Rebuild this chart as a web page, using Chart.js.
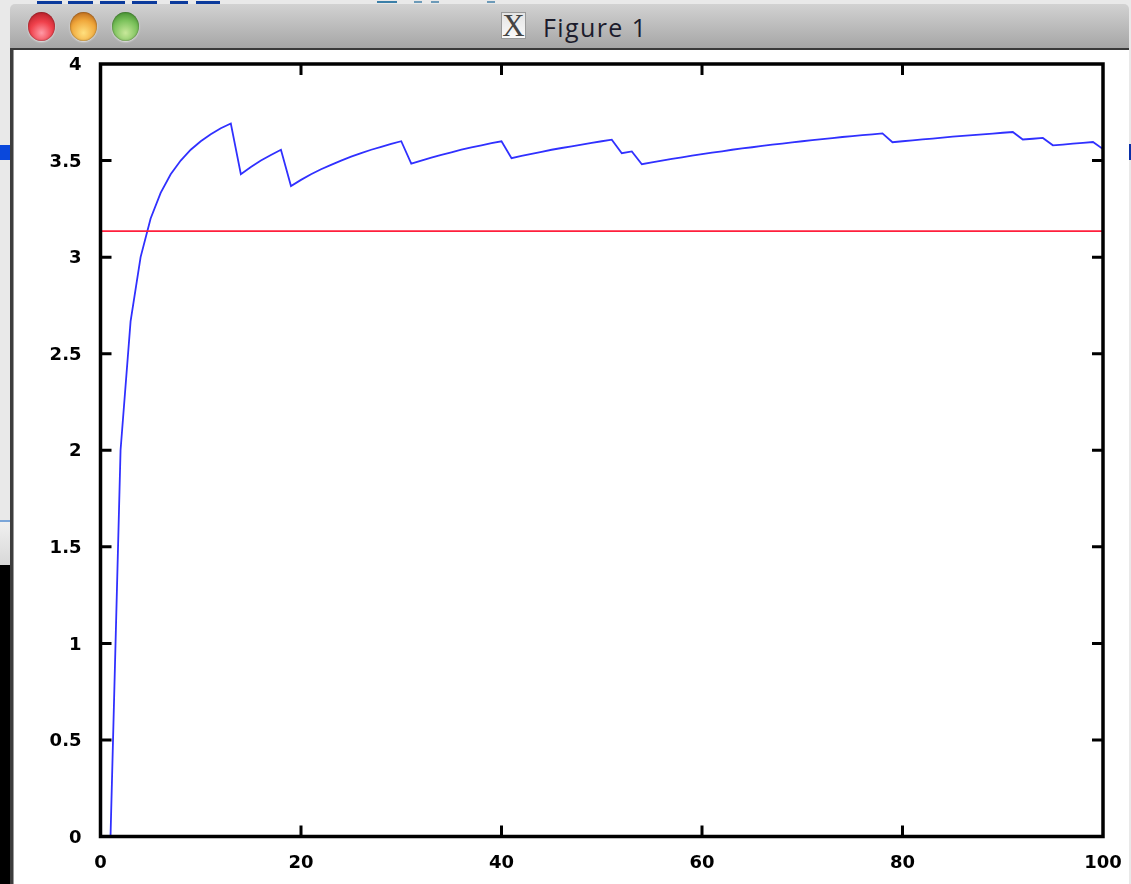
<!DOCTYPE html>
<html><head><meta charset="utf-8">
<script src="https://cdn.jsdelivr.net/npm/chart.js@4"></script>
<style>
html,body{margin:0;padding:0;width:1131px;height:884px;overflow:hidden;background:#e9e9e9;font-family:"DejaVu Sans",sans-serif}
div{position:absolute}
#chart{position:absolute;left:0;top:0;width:1131px;height:884px}
.bt{top:1px;height:3px;background:#0b3a9c}
.light{width:27px;height:29px;border-radius:50%;top:12px;box-shadow:0 1px 2px rgba(255,255,255,.7),inset 0 0 2px rgba(0,0,0,.5)}
</style></head><body>
<div style="left:0;top:565px;width:10px;height:319px;background:#000"></div>
<div style="left:0;top:520px;width:10px;height:2px;background:#7aa5d8"></div>
<div style="left:0;top:522px;width:10px;height:43px;background:linear-gradient(#f0f0f0,#d8d8d8)"></div>
<div style="left:0;top:145px;width:10px;height:15px;background:#0a48dc"></div>
<div style="left:1129px;top:144px;width:2px;height:16px;background:#0a2fa8"></div>
<div class="bt" style="left:37px;width:25px"></div><div class="bt" style="left:68px;width:25px"></div>
<div class="bt" style="left:100px;width:25px"></div><div class="bt" style="left:132px;width:25px"></div>
<div class="bt" style="left:170px;width:18px"></div><div class="bt" style="left:196px;width:24px"></div>
<div class="bt" style="left:377px;width:20px;background:#3b7fa8;height:2px"></div>
<div class="bt" style="left:414px;width:8px;background:#6c9ab8;height:2px"></div>
<div class="bt" style="left:431px;width:8px;background:#6c9ab8;height:2px"></div>
<div class="bt" style="left:487px;width:8px;background:#6c9ab8;height:2px"></div>
<div style="left:10px;top:4px;width:1119px;height:44px;border-radius:5px 5px 0 0;background:linear-gradient(#d2d2d2,#a6a6a6)"></div>
<div style="left:10px;top:48px;width:1119px;height:2px;background:#3a3a3a"></div>
<div style="left:10px;top:50px;width:3px;height:834px;background:#3d3d3d"></div>
<div style="left:13px;top:50px;width:1px;height:834px;background:#9a9a9a"></div>
<div style="left:14px;top:50px;width:1115px;height:834px;background:#fff"></div>
<div class="light" style="left:28px;background:radial-gradient(circle at 50% 72%,#ff9aa6 0,#f0414c 45%,#b01c25 90%)"></div>
<div class="light" style="left:70px;background:radial-gradient(circle at 50% 72%,#ffe07e 0,#f0a83c 50%,#b8641a 90%)"></div>
<div class="light" style="left:112px;background:radial-gradient(circle at 50% 72%,#c8e89a 0,#7cc25c 50%,#3f8a2c 90%)"></div>
<div style="left:501px;top:12px;width:25px;height:27px;background:linear-gradient(#e4e4e4,#fafafa);border:1px solid #999;box-sizing:border-box;color:#444;font:31px/25px 'Liberation Serif',serif;text-align:center;overflow:hidden">X</div>
<div style="left:543px;top:12px;color:#1c1c2c;font:25px/30px 'Open Sans','DejaVu Sans',sans-serif;letter-spacing:1.4px;white-space:nowrap">Figure 1</div>
<canvas id="chart" width="1131" height="884"></canvas>
<script>
const trials = [1,2,3,4,5,6,7,8,9,10,11,12,13,14,15,16,17,18,19,20,21,22,23,24,25,26,27,28,29,30,31,32,33,34,35,36,37,38,39,40,41,42,43,44,45,46,47,48,49,50,51,52,53,54,55,56,57,58,59,60,61,62,63,64,65,66,67,68,69,70,71,72,73,74,75,76,77,78,79,80,81,82,83,84,85,86,87,88,89,90,91,92,93,94,95,96,97,98,99,100];
const estimate = [0,2,2.667,3,3.2,3.333,3.429,3.5,3.556,3.6,3.636,3.667,3.692,3.429,3.467,3.5,3.529,3.556,3.368,3.4,3.429,3.455,3.478,3.5,3.52,3.538,3.556,3.571,3.586,3.6,3.484,3.5,3.515,3.529,3.543,3.556,3.568,3.579,3.59,3.6,3.512,3.524,3.535,3.545,3.556,3.565,3.574,3.583,3.592,3.6,3.608,3.538,3.547,3.481,3.491,3.5,3.509,3.517,3.525,3.533,3.541,3.548,3.556,3.563,3.569,3.576,3.582,3.588,3.594,3.6,3.606,3.611,3.616,3.622,3.627,3.632,3.636,3.641,3.595,3.6,3.605,3.61,3.614,3.619,3.624,3.628,3.632,3.636,3.64,3.644,3.648,3.609,3.613,3.617,3.579,3.583,3.588,3.592,3.596,3.56];
const reference = [3.135,3.135];
const referenceX = [0,100];
const xTicks = [0,20,40,60,80,100];
const yTicks = [0,0.5,1,1.5,2,2.5,3,3.5,4];

const boxPlugin = {
  id:'box',
  afterDatasetsDraw(c){
    const {ctx,chartArea:a,scales:{x,y}} = c;
    ctx.save();
    ctx.strokeStyle='#000';ctx.lineWidth=3.5;ctx.lineCap='butt';
    ctx.strokeRect(a.left,a.top,a.right-a.left,a.bottom-a.top);
    ctx.lineWidth=3;
    ctx.beginPath();
    x.ticks.forEach(t=>{const p=x.getPixelForValue(t.value);
      if(p>a.left+1&&p<a.right-1){ctx.moveTo(p,a.bottom);ctx.lineTo(p,a.bottom-11);ctx.moveTo(p,a.top);ctx.lineTo(p,a.top+11);}});
    y.ticks.forEach(t=>{const p=y.getPixelForValue(t.value);
      if(p>a.top+1&&p<a.bottom-1){ctx.moveTo(a.left,p);ctx.lineTo(a.left+11,p);ctx.moveTo(a.right,p);ctx.lineTo(a.right-11,p);}});
    ctx.stroke();ctx.restore();
  }
};
const tickFont={family:'"DejaVu Sans"',size:18,weight:'bold'};
new Chart(document.getElementById('chart'),{
  type:'line',
  data:{datasets:[
    {data:trials.map((t,i)=>({x:t,y:estimate[i]})),borderColor:'#3030ff',borderWidth:1.8,pointRadius:0,tension:0,order:2},
    {data:referenceX.map((t,i)=>({x:t,y:reference[i]})),borderColor:'#ff1f3c',borderWidth:1.8,pointRadius:0,tension:0,order:1}
  ]},
  plugins:[boxPlugin],
  options:{
    responsive:false,animation:false,parsing:true,
    layout:{padding:{left:0,top:64,right:28,bottom:0},autoPadding:false},
    plugins:{legend:{display:false},tooltip:{enabled:false},title:{display:false}},
    scales:{
      x:{type:'linear',min:0,max:100,
        afterBuildTicks(s){s.ticks=xTicks.map(v=>({value:v}));},
        afterFit(s){s.height=47.5;},
        grid:{display:false},border:{display:false},
        ticks:{color:'#000',font:tickFont,padding:8,maxRotation:0,autoSkip:false}},
      y:{type:'linear',min:0,max:4,
        afterBuildTicks(s){s.ticks=yTicks.map(v=>({value:v}));},
        afterFit(s){s.width=100.5;},
        grid:{display:false},border:{display:false},
        ticks:{color:'#000',font:tickFont,padding:11,labelOffset:1.5,autoSkip:false,callback:v=>String(v)}}
    }
  }
});
</script>
</body></html>
